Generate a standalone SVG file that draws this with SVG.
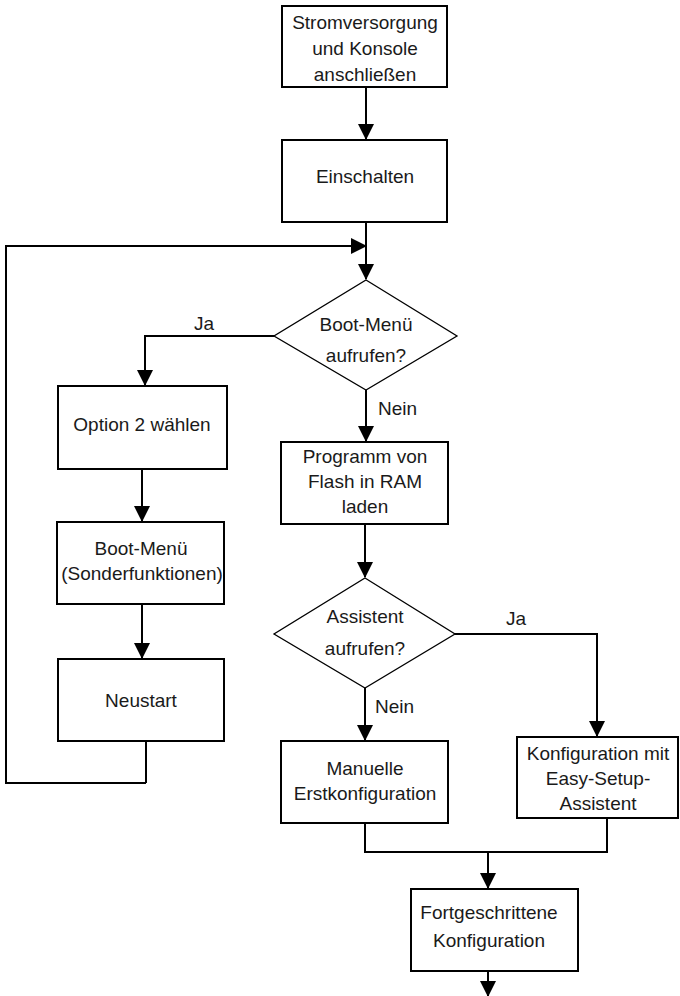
<svg xmlns="http://www.w3.org/2000/svg" width="680" height="996" viewBox="0 0 680 996">
<style>
.box{fill:#fff;stroke:#000;stroke-width:2}
.dia{fill:#fff;stroke:#000;stroke-width:1.3}
.ln{fill:none;stroke:#000;stroke-width:2}
.arr{fill:none;stroke:#000;stroke-width:2;marker-end:url(#ah)}
text{font-family:"Liberation Sans",Arial,sans-serif;font-size:19px;fill:#1a1a1a;text-anchor:middle}
.lbl{text-anchor:start}
</style>
<defs>
<marker id="ah" markerUnits="userSpaceOnUse" markerWidth="16" markerHeight="16" refX="15" refY="8" orient="auto" viewBox="0 0 16 16">
<path d="M0,0 L16,8 L0,16 z" fill="#000"/>
</marker>
</defs>
<g id="connectors">
<path class="arr" d="M366,88 V139"/>
<path class="ln" d="M366,222 V246"/>
<path class="arr" d="M366,246 V279"/>
<path class="arr" d="M146,783 H6 V246 H366"/>
<path class="ln" d="M146,741 V783"/>
<path class="arr" d="M274,336 H145 V385"/>
<path class="arr" d="M366,390 V441"/>
<path class="arr" d="M142,469 V521"/>
<path class="arr" d="M142,604 V658"/>
<path class="arr" d="M365,524 V577"/>
<path class="arr" d="M455,634 H597 V736"/>
<path class="arr" d="M365,688 V740"/>
<path class="ln" d="M365,823 V852 H607 V818"/>
<path class="arr" d="M488,852 V888"/>
<path class="arr" d="M488,971 V996"/>
<text class="lbl" x="194" y="330">Ja</text>
<text class="lbl" x="378" y="415">Nein</text>
<text class="lbl" x="506" y="625">Ja</text>
<text class="lbl" x="375" y="713">Nein</text>
</g>
<g id="n1">
<rect class="box" x="282" y="6" width="165" height="81"/>
<text x="365" y="29">Stromversorgung</text>
<text x="365" y="55">und Konsole</text>
<text x="365" y="81">anschließen</text>
</g>
<g id="n2">
<rect class="box" x="282" y="140" width="165" height="82"/>
<text x="365" y="183">Einschalten</text>
</g>
<g id="d1">
<polygon class="dia" points="366,280 457,336 366,390 274,336"/>
<text x="366" y="331">Boot-Menü</text>
<text x="366" y="362">aufrufen?</text>
</g>
<g id="n3">
<rect class="box" x="58" y="386" width="169" height="83"/>
<text x="142" y="431">Option 2 wählen</text>
</g>
<g id="n4">
<rect class="box" x="57" y="522" width="167" height="82"/>
<text x="141" y="555">Boot-Menü</text>
<text x="142" y="580">(Sonderfunktionen)</text>
</g>
<g id="n5">
<rect class="box" x="58" y="659" width="166" height="82"/>
<text x="141" y="707">Neustart</text>
</g>
<g id="n6">
<rect class="box" x="281" y="442" width="167" height="82"/>
<text x="365" y="463">Programm von</text>
<text x="365" y="488">Flash in RAM</text>
<text x="365" y="513">laden</text>
</g>
<g id="d2">
<polygon class="dia" points="365,578 455,634 365,688 274,634"/>
<text x="365" y="623">Assistent</text>
<text x="365" y="655">aufrufen?</text>
</g>
<g id="n7">
<rect class="box" x="281" y="741" width="167" height="82"/>
<text x="365" y="775">Manuelle</text>
<text x="365" y="800">Erstkonfiguration</text>
</g>
<g id="n8">
<rect class="box" x="517" y="737" width="161" height="81"/>
<text x="598" y="760">Konfiguration mit</text>
<text x="598" y="785">Easy-Setup-</text>
<text x="598" y="810">Assistent</text>
</g>
<g id="n9">
<rect class="box" x="411" y="889" width="167" height="82"/>
<text x="489" y="919">Fortgeschrittene</text>
<text x="489" y="947">Konfiguration</text>
</g>
</svg>
